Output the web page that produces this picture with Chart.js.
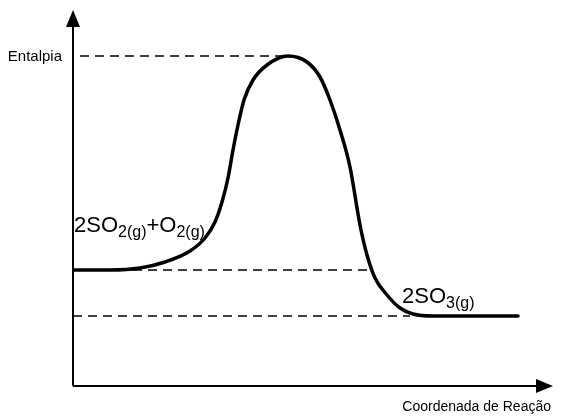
<!DOCTYPE html>
<html>
<head>
<meta charset="utf-8">
<script src="https://cdn.jsdelivr.net/npm/chart.js@4.4.1/dist/chart.umd.min.js"></script>
<style>
  html, body { margin: 0; padding: 0; background: #fff; }
  #wrap { width: 567px; height: 416px; }
</style>
</head>
<body>
<div id="wrap"><canvas id="diagram"></canvas></div>
<script>
  "use strict";

  // Reaction path
  var reactionCoord = [0, 37, 67, 92, 117, 132, 142, 149, 155, 160, 165, 171, 180, 194, 215, 234, 247, 257, 267, 277, 287, 294, 302, 314, 327, 340, 360, 445];
  var enthalpy = [116, 116, 118, 124, 135, 148, 164, 184, 208, 236, 261, 286, 306, 321, 330, 324, 309, 286, 256, 219, 161, 131, 108, 91, 78, 72, 70, 70];

  // Dashed reference levels: transition state, reactants, products
  var levelValues = [330, 116, 70];
  var levelFrom = [7, 0, 0];
  var levelTo = [215, 300, 337];

  var axisTitles = ["Entalpia", "Coordenada de Reação"];
  var reactantParts = [["2SO", 0], ["2(g)", 1], ["+O", 0], ["2(g)", 1]];
  var productParts = [["2SO", 0], ["3(g)", 1]];

  var xMax = 480;
  var yMax = 376;

  var curve = reactionCoord.map(function (x, i) {
    return { x: x, y: enthalpy[i] };
  });

  var datasets = [
    {
      data: curve,
      showLine: true,
      borderColor: "#000",
      borderWidth: 3.5,
      borderCapStyle: "round",
      cubicInterpolationMode: "monotone",
      pointRadius: 0,
    },
  ];
  levelValues.forEach(function (v, i) {
    datasets.push({
      data: [{ x: levelFrom[i], y: v }, { x: levelTo[i], y: v }],
      showLine: true,
      borderColor: "#000",
      borderWidth: 1.4,
      borderDash: [9, 6],
      pointRadius: 0,
    });
  });

  function drawParts(ctx, parts, x, y) {
    parts.forEach(function (p) {
      var sub = p[1] === 1;
      ctx.font = (sub ? "16px" : "22px") + " 'Liberation Sans', Arial, sans-serif";
      ctx.fillText(p[0], x, sub ? y + 5 : y);
      x += ctx.measureText(p[0]).width;
    });
  }

  // Axes with arrows + labels
  var decorations = {
    id: "decorations",
    afterDatasetsDraw: function (chart) {
      var ctx = chart.ctx;
      var sx = chart.scales.x;
      var sy = chart.scales.y;
      var x0 = sx.getPixelForValue(0);
      var y0 = sy.getPixelForValue(0);
      var xTip = sx.getPixelForValue(xMax);
      var yTip = sy.getPixelForValue(yMax);

      ctx.save();
      ctx.strokeStyle = "#000";
      ctx.fillStyle = "#000";
      ctx.lineWidth = 2;
      ctx.beginPath();
      ctx.moveTo(x0, y0);
      ctx.lineTo(x0, yTip + 12);
      ctx.moveTo(x0, y0);
      ctx.lineTo(xTip - 12, y0);
      ctx.stroke();

      ctx.beginPath();
      ctx.moveTo(x0, yTip);
      ctx.lineTo(x0 - 7, yTip + 17);
      ctx.lineTo(x0 + 7, yTip + 17);
      ctx.closePath();
      ctx.fill();

      ctx.beginPath();
      ctx.moveTo(xTip, y0);
      ctx.lineTo(xTip - 17, y0 - 7);
      ctx.lineTo(xTip - 17, y0 + 7);
      ctx.closePath();
      ctx.fill();

      ctx.textBaseline = "alphabetic";
      ctx.font = "15px 'Liberation Sans', Arial, sans-serif";
      ctx.textAlign = "right";
      ctx.fillText(axisTitles[0], x0 - 11, sy.getPixelForValue(levelValues[0]) + 5);
      ctx.font = "14px 'Liberation Sans', Arial, sans-serif";
      ctx.fillText(axisTitles[1], xTip - 2, y0 + 25);

      ctx.textAlign = "left";
      drawParts(ctx, reactantParts, sx.getPixelForValue(1), sy.getPixelForValue(154));
      drawParts(ctx, productParts, sx.getPixelForValue(329), sy.getPixelForValue(83));
      ctx.restore();
    },
  };

  new Chart(document.getElementById("diagram"), {
    type: "scatter",
    data: { datasets: datasets },
    options: {
      responsive: true,
      maintainAspectRatio: false,
      animation: false,
      layout: { padding: { left: 73, right: 14, top: 10, bottom: 30 } },
      plugins: { legend: { display: false }, tooltip: { enabled: false } },
      scales: {
        x: { type: "linear", min: 0, max: xMax, display: false },
        y: { type: "linear", min: 0, max: yMax, display: false },
      },
    },
    plugins: [decorations],
  });
</script>
</body>
</html>
